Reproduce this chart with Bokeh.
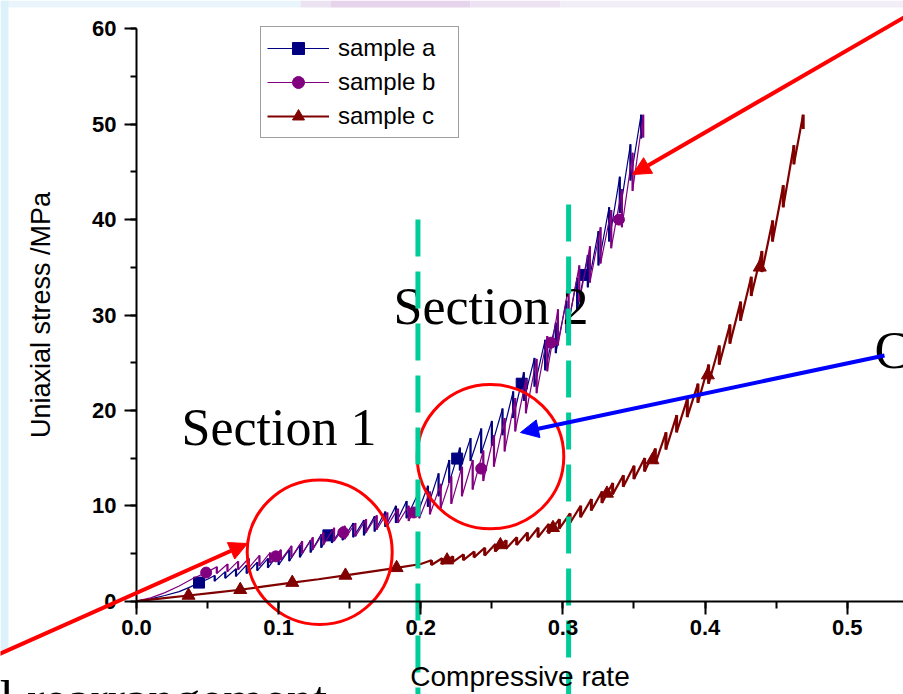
from bokeh.plotting import figure
from bokeh.models import (LinearAxis, SingleIntervalTicker, PrintfTickFormatter, Range1d,
                          Legend, LegendItem, Arrow, NormalHead)
from bokeh.embed import file_html
from bokeh.resources import INLINE
from bokeh.core.properties import value

# ---------------- data ----------------
# sample a: smooth start, then sawtooth teeth (x, upper, lower)
a_x0 = [0, 0.01, 0.02, 0.03, 0.038, 0.044, 0.05]
a_y0 = [0, 0.25, 0.6, 1.0, 1.5, 1.95, 2.3]
a_tx = [0.055, 0.0625, 0.07, 0.0775, 0.085, 0.0925, 0.1, 0.1075, 0.115, 0.1225, 0.13, 0.1375,
        0.145, 0.1525, 0.16, 0.1675, 0.175, 0.1825, 0.19, 0.1975, 0.205, 0.2125, 0.22, 0.2275,
        0.235, 0.2425, 0.25, 0.2575, 0.265, 0.2725, 0.28, 0.2875, 0.295, 0.3025, 0.31, 0.3175,
        0.325, 0.3325, 0.34, 0.3475, 0.355]
a_hi = [2.7, 3.1, 3.4, 3.8, 4.1, 4.5, 5.0, 5.4, 5.9, 6.4, 7.0, 7.5, 7.8, 8.2, 8.5, 8.9, 9.4,
        10.0, 10.5, 11.1, 12.1, 13.4, 14.8, 16.1, 17.1, 18.1, 18.9, 20.2, 22.0, 24.0, 25.5,
        27.4, 29.2, 31.5, 33.9, 36.3, 38.8, 41.3, 44.5, 47.9, 51.0]
a_lo = [2.1, 2.4, 2.6, 2.9, 3.2, 3.5, 3.8, 4.2, 4.6, 5.1, 5.6, 6.1, 6.4, 6.7, 6.9, 7.3, 7.8,
        8.2, 8.7, 9.1, 9.9, 11.0, 12.4, 13.7, 14.7, 15.5, 16.3, 17.4, 19.2, 21.0, 22.5, 24.2,
        26.0, 28.1, 30.5, 32.9, 35.2, 37.7, 40.7, 44.1, 48.5]
a_mx = [0.044, 0.135, 0.2256, 0.271, 0.3155]
a_my = [1.95, 6.9, 14.95, 22.8, 34.2]

# sample b
b_x0 = [0, 0.01, 0.02, 0.03, 0.04, 0.049]
b_y0 = [0, 0.35, 0.9, 1.6, 2.4, 3.0]
b_tx = [0.0565, 0.064, 0.0715, 0.079, 0.0865, 0.094, 0.1015, 0.109, 0.1165, 0.124, 0.1315,
        0.139, 0.1465, 0.154, 0.1615, 0.169, 0.1765, 0.184, 0.1915, 0.199, 0.2065, 0.214,
        0.2215, 0.229, 0.2365, 0.244, 0.2515, 0.259, 0.2665, 0.274, 0.2815, 0.289, 0.2965,
        0.304, 0.3115, 0.319, 0.3265, 0.334, 0.3415, 0.349, 0.3565]
b_hi = [3.6, 3.9, 4.2, 4.5, 4.8, 5.1, 5.4, 5.8, 6.3, 6.7, 7.2, 7.7, 7.9, 8.2, 8.6, 9.0, 9.3,
        9.7, 10.0, 10.5, 11.5, 12.3, 13.1, 14.1, 14.8, 15.8, 17.4, 19.2, 21.3, 23.3, 25.4,
        27.8, 30.6, 33.0, 35.2, 37.2, 39.2, 41.0, 43.2, 47.0, 51.0]
b_lo = [2.9, 3.1, 3.3, 3.5, 3.7, 4.0, 4.3, 4.6, 5.0, 5.4, 5.9, 6.3, 6.5, 6.8, 7.2, 7.5, 7.9,
        8.2, 8.4, 8.7, 9.1, 9.7, 10.2, 11.0, 11.7, 12.6, 14.1, 15.7, 17.8, 19.7, 21.8, 24.1,
        26.8, 29.1, 31.4, 33.4, 35.4, 37.0, 39.2, 43.0, 48.6]
b_mx = [0.049, 0.098, 0.1455, 0.195, 0.2425, 0.2916, 0.3394]
b_my = [3.0, 4.7, 7.2, 9.3, 13.9, 27.1, 40.0]

# sample c
c_x0 = [0, 0.018, 0.0366, 0.055, 0.073, 0.09, 0.1096, 0.128, 0.147, 0.165, 0.183, 0.2]
c_y0 = [0, 0.3, 0.6, 0.9, 1.2, 1.55, 1.95, 2.3, 2.7, 3.1, 3.5, 3.9]
c_tx = [0.2075, 0.215, 0.2225, 0.23, 0.2375, 0.245, 0.2525, 0.26, 0.2675, 0.275, 0.2825, 0.29,
        0.2975, 0.305, 0.3125, 0.32, 0.3275, 0.335, 0.3425, 0.35, 0.3575, 0.365, 0.3725, 0.38,
        0.3875, 0.395, 0.4025, 0.41, 0.4175, 0.425, 0.4325, 0.44, 0.4475, 0.455, 0.4625, 0.469]
c_hi = [4.3, 4.5, 4.7, 4.9, 5.2, 5.6, 6.0, 6.4, 6.7, 7.2, 7.7, 8.1, 8.6, 9.2, 10.0, 10.7, 11.5,
        12.4, 13.2, 14.2, 15.0, 16.0, 17.7, 19.5, 21.2, 22.8, 24.8, 26.8, 29.0, 31.4, 34.0,
        36.7, 39.9, 43.6, 47.8, 51.0]
c_lo = [3.8, 3.9, 4.1, 4.3, 4.6, 4.8, 5.2, 5.5, 5.9, 6.3, 6.7, 7.1, 7.6, 8.2, 8.8, 9.5, 10.3,
        11.2, 12.0, 12.8, 13.6, 14.4, 15.9, 17.7, 19.3, 20.8, 22.8, 24.8, 27.0, 29.4, 32.0,
        34.5, 37.7, 41.3, 45.8, 49.5]
c_mx = [0.0366, 0.073, 0.1096, 0.147, 0.183, 0.2185, 0.256, 0.293, 0.331, 0.363, 0.402, 0.4385]
c_my = [0.6, 1.2, 1.95, 2.7, 3.5, 4.3, 5.9, 7.7, 11.3, 14.8, 23.7, 35.0]

series_names = ["sample a", "sample b", "sample c"]
section_x = [0.198, 0.304]          # dashed section boundaries
section_labels = ["Section 1", "Section 2"]

# ---------------- layout calibration (pixels) ----------------
W, H = 903, 694
X0_PX, X_PER = 136.0, 1421.4
Y0_PX, Y_PER = 600.7, 9.54
TXT_SHIFT = 20   # text glyph baseline correction, px


def dx(px):
    return (px - X0_PX) / X_PER


def dy(py):
    return (Y0_PX - py) / Y_PER


def path(x0, y0, tx, hi, lo):
    xs, ys = list(x0), list(y0)
    for x, h, l in zip(tx, hi, lo):
        xs += [x, x]
        ys += [h, l]
    return xs, ys


NAVY, PURPLE, DRED = "#000080", "#800080", "#800000"
RED, BLUE, GREEN = "#ff0000", "#0000ff", "#00cc99"

p = figure(width=W, height=H, x_range=Range1d(dx(0), dx(W)), y_range=Range1d(dy(H), dy(0)),
           output_backend="svg", toolbar_location=None, min_border=0,
           x_axis_type=None, y_axis_type=None, outline_line_color=None)
p.background_fill_color = "white"
p.border_fill_color = "white"

# slide background strips
top_l = [0, 300, 330, 470, 560]
top_r = [300, 330, 470, 560, 903]
top_c = ["#e9f5fb", "#ece3f2", "#e6d4ec", "#ede2f2", "#f2eef7"]
p.quad(left=[dx(v) for v in top_l], right=[dx(v) for v in top_r], top=[dy(0)] * 5,
       bottom=[dy(7)] * 5, fill_color=top_c, line_color=None)
p.quad(left=[dx(0)], right=[dx(8)], top=[dy(0)], bottom=[dy(650)],
       fill_color="#dcf1fa", line_color=None)

# axes
xaxis = LinearAxis(fixed_location=0, bounds=(0, 0.6),
                   ticker=SingleIntervalTicker(interval=0.1, num_minor_ticks=2),
                   formatter=PrintfTickFormatter(format="%.1f"), axis_label="Compressive rate")
yaxis = LinearAxis(fixed_location=0, bounds=(0, 60),
                   ticker=SingleIntervalTicker(interval=10, num_minor_ticks=2),
                   axis_label="Uniaxial stress /MPa")
for ax, tout, mout in ((xaxis, 13, 7), (yaxis, 12, 6)):
    ax.axis_line_width = 2
    ax.major_tick_line_width = 2
    ax.minor_tick_line_width = 2
    ax.major_tick_in = 0
    ax.major_tick_out = tout
    ax.minor_tick_in = 0
    ax.minor_tick_out = mout
    ax.major_label_text_font = "Liberation Sans"
    ax.major_label_text_font_style = "bold"
    ax.major_label_text_font_size = "22px"
    ax.major_label_text_color = "black"
    ax.axis_label_text_font = "Liberation Sans"
    ax.axis_label_text_font_style = "normal"
    ax.axis_label_text_color = "black"
xaxis.axis_label_text_font_size = "28px"
yaxis.axis_label_text_font_size = "27px"
xaxis.major_label_standoff = 6
xaxis.axis_label_standoff = 22
yaxis.major_label_standoff = 8
yaxis.axis_label_standoff = 33
p.add_layout(xaxis, "below")
p.add_layout(yaxis, "left")

# curves
ax_, ay_ = path(a_x0, a_y0, a_tx, a_hi, a_lo)
bx_, by_ = path(b_x0, b_y0, b_tx, b_hi, b_lo)
cx_, cy_ = path(c_x0, c_y0, c_tx, c_hi, c_lo)

la = p.line(ax_, ay_, line_color=NAVY, line_width=1.2)
p.segment(x0=a_tx, y0=a_hi, x1=a_tx, y1=a_lo, line_color=NAVY, line_width=2.2)
ma = p.scatter(a_mx, a_my, marker="square", size=11, fill_color=NAVY, line_color=NAVY)
lb = p.line(bx_, by_, line_color=PURPLE, line_width=1.2)
p.segment(x0=b_tx, y0=b_hi, x1=b_tx, y1=b_lo, line_color=PURPLE, line_width=2.2)
mb = p.scatter(b_mx, b_my, marker="circle", size=11, fill_color=PURPLE, line_color=PURPLE)
lc = p.line(cx_, cy_, line_color=DRED, line_width=2.2)
p.segment(x0=c_tx, y0=c_hi, x1=c_tx, y1=c_lo, line_color=DRED, line_width=3)
mc = p.scatter(c_mx, c_my, marker="triangle", size=13, fill_color=DRED, line_color=DRED)

legend = Legend(items=[LegendItem(label=series_names[0], renderers=[la, ma]),
                       LegendItem(label=series_names[1], renderers=[lb, mb]),
                       LegendItem(label=series_names[2], renderers=[lc, mc])],
                location=(260, 556), orientation="vertical",
                glyph_width=62, glyph_height=30, label_height=30, label_width=114,
                label_standoff=9, spacing=4, padding=6, margin=0,
                label_text_font="Liberation Sans", label_text_font_size="24px",
                label_text_color="black", border_line_color="#404040",
                border_line_width=1.5, background_fill_color="white", background_fill_alpha=1)
p.add_layout(legend)

# annotations: circles, texts, section lines, arrows
p.ellipse(x=[dx(319.2), dx(490.0)], y=[dy(551.7), dy(456.2)],
          width=[145 / X_PER, 146.6 / X_PER], height=[144.6 / Y_PER, 144.4 / Y_PER],
          fill_color=None, line_color=RED, line_width=3)

p.text(x=[dx(181), dx(393)], y=[dy(447 - TXT_SHIFT), dy(326 - TXT_SHIFT)], text=section_labels,
       text_font=value("Liberation Serif"), text_font_size=value("52px"),
       text_baseline="alphabetic", text_align="left", text_color="black")
p.text(x=[dx(-1), dx(874)], y=[dy(719 - TXT_SHIFT), dy(370 - TXT_SHIFT)],
       text=["l rearrangement", "C"],
       text_font=value("Liberation Serif"), text_font_size=value("52px"),
       text_baseline="alphabetic", text_align="left", text_color="black")

p.line([section_x[0], section_x[0]], [dy(219), dy(720)], line_color=GREEN, line_width=5,
       line_dash="37 15")
p.line([section_x[1], section_x[1]], [dy(204), dy(720)], line_color=GREEN, line_width=5,
       line_dash="37 15")

for (sx, sy, ex, ey, col) in ((-10, 657.5, 247, 543, RED), (912, 12, 632, 174, RED),
                              (884, 355, 520, 432, BLUE)):
    p.add_layout(Arrow(end=NormalHead(size=18, fill_color=col, line_color=col, line_width=1),
                       x_start=dx(sx), y_start=dy(sy), x_end=dx(ex), y_end=dy(ey),
                       line_color=col, line_width=4))

open("out.html", "w").write(file_html(p, INLINE))
